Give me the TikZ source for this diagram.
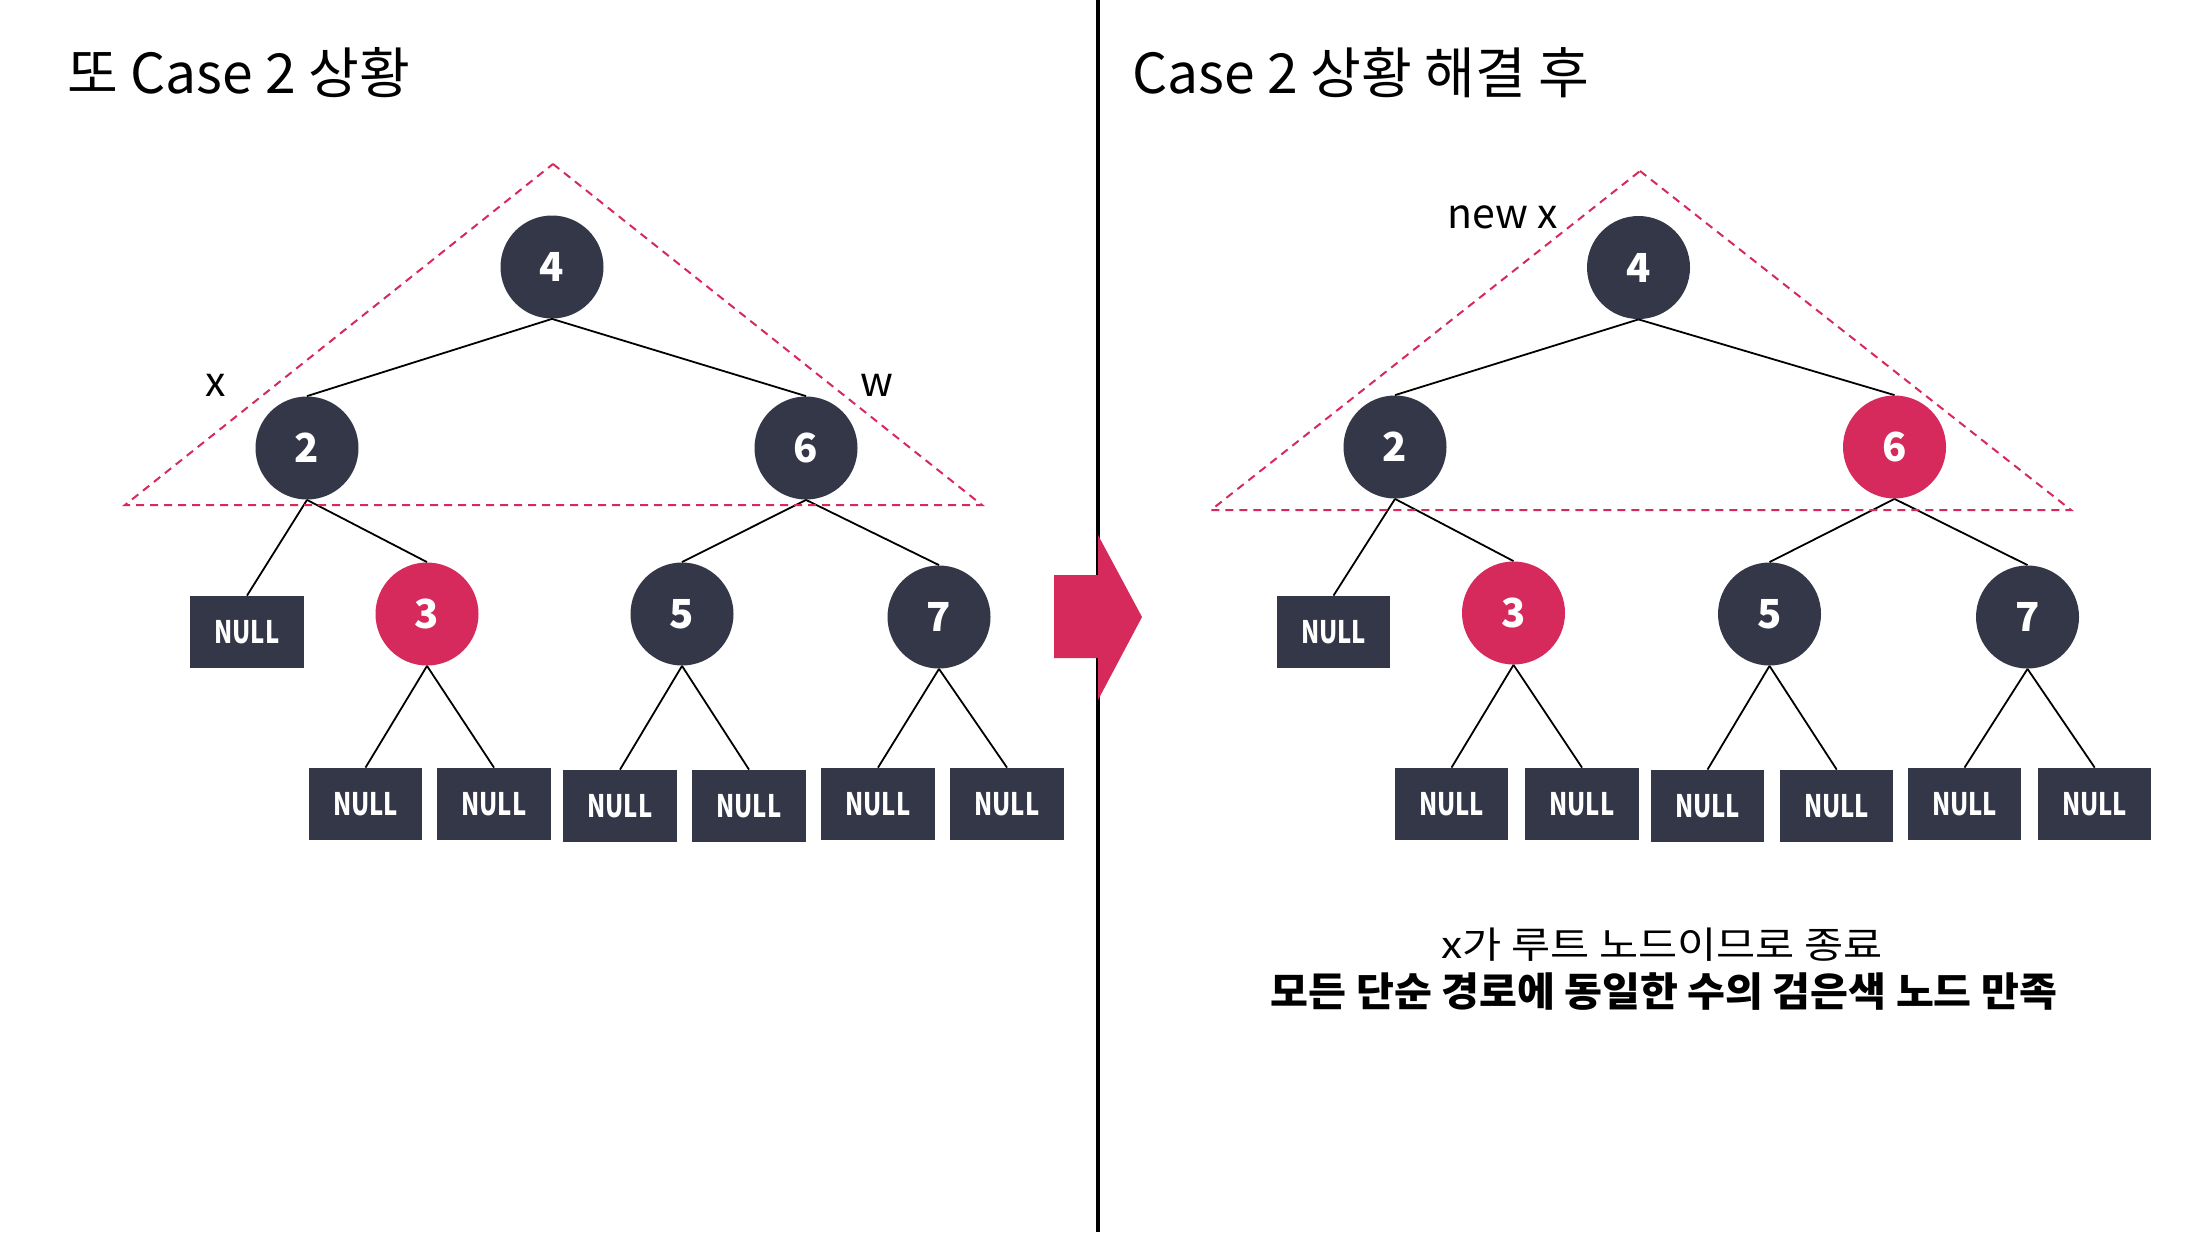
\documentclass[tikz,border=0pt]{standalone}
\usepackage{fontspec}
\setmainfont{Noto Sans CJK KR}
\newfontfamily\nfnt[FakeStretch=0.77]{Noto Sans CJK KR}
\newfontfamily\lonefnt[FakeStretch=1.15]{Noto Sans CJK KR}
\newfontfamily\ltwofnt[FakeStretch=1.03]{Noto Sans CJK KR}
\definecolor{nd}{RGB}{52,55,72}
\definecolor{nr}{RGB}{214,42,92}
\begin{document}
\begin{tikzpicture}[x=0.5pt,y=-0.5pt,
  blk/.style={circle,fill=nd,minimum size=51.5pt,inner sep=0pt,text=white,font=\bfseries\fontsize{20}{22}\selectfont},
  rd/.style={blk,fill=nr},
  nul/.style={rectangle,fill=nd,minimum width=56.75pt,minimum height=36pt,inner sep=0pt,text=white,font=\nfnt\bfseries\fontsize{15.5}{17}\selectfont},
  edge/.style={draw=black,line width=0.9pt},
  tri/.style={draw=nr,line width=1pt,dash pattern=on 4pt off 3pt},
  ttl/.style={anchor=base west,inner sep=0pt,font=\fontsize{27.6}{31}\selectfont},
  lbl/.style={anchor=base,inner sep=0pt,font=\fontsize{20.5}{24}\selectfont}]
\useasboundingbox (0,0) rectangle (2198,1232);
\fill[white] (0,0) rectangle (2198,1232);
% divider
\draw[line width=2pt] (1098,0) -- (1098,1232);
\fill[nr] (1054,575) -- (1098,575) -- (1098,535) -- (1142,617) -- (1098,700) -- (1098,658) -- (1054,658) -- cycle;
% titles
\node[ttl] (t1) at (67,93) {또 Case 2 상황};
\node[ttl] (t2) at (1132,93) {Case 2 상황 해결 후};
% left tree
\node[blk] (L4) at (552,267) {4};
\node[blk] (L2) at (307,448) {2};
\node[blk] (L6) at (806,448) {6};
\node[nul] (Ln0) at (247,632) {NULL};
\node[rd] (L3) at (427,614) {3};
\node[blk] (L5) at (682,614) {5};
\node[blk] (L7) at (939,617) {7};
\node[nul] (Ln1) at (365.5,804) {NULL};
\node[nul] (Ln2) at (494,804) {NULL};
\node[nul] (Ln3) at (620,806) {NULL};
\node[nul] (Ln4) at (749,806) {NULL};
\node[nul] (Ln5) at (878,804) {NULL};
\node[nul] (Ln6) at (1007,804) {NULL};
\foreach \a/\b in {L4/L2,L4/L6,L2/Ln0,L2/L3,L6/L5,L6/L7,L3/Ln1,L3/Ln2,L5/Ln3,L5/Ln4,L7/Ln5,L7/Ln6}
  \draw[edge] (\a.south) -- (\b.north);
\node[lbl] (lx) at (216,396) {x};
\node[lbl] (lw) at (877,396) {w};
\draw[tri] (553,164) -- (982,505) -- (125,505) -- cycle;
% right tree
\node[blk] (R4) at (1638.5,267.5) {4};
\node[blk] (R2) at (1395,447) {2};
\node[rd] (R6) at (1894.5,447) {6};
\node[nul] (Rn0) at (1333.5,632) {NULL};
\node[rd] (R3) at (1513.5,613) {3};
\node[blk] (R5) at (1769.5,614) {5};
\node[blk] (R7) at (2027.5,617) {7};
\node[nul] (Rn1) at (1451.5,804) {NULL};
\node[nul] (Rn2) at (1582,804) {NULL};
\node[nul] (Rn3) at (1707.5,806) {NULL};
\node[nul] (Rn4) at (1836.7,806) {NULL};
\node[nul] (Rn5) at (1964.5,804) {NULL};
\node[nul] (Rn6) at (2094.7,804) {NULL};
\foreach \a/\b in {R4/R2,R4/R6,R2/Rn0,R2/R3,R6/R5,R6/R7,R3/Rn1,R3/Rn2,R5/Rn3,R5/Rn4,R7/Rn5,R7/Rn6}
  \draw[edge] (\a.south) -- (\b.north);
\node[lbl] (rx) at (1503,228) {new x};
\draw[tri] (1640,171) -- (2071,510) -- (1211,510) -- cycle;
% bottom texts
\node[anchor=base,inner sep=0pt,font=\lonefnt\fontsize{18.5}{20}\selectfont] (m1) at (1662,958) {x가 루트 노드이므로 종료};
\node[anchor=base,inner sep=0pt,font=\ltwofnt\bfseries\fontsize{20}{22}\selectfont] (m2) at (1664,1006) {모든 단순 경로에 동일한 수의 검은색 노드 만족};
\end{tikzpicture}
\end{document}
